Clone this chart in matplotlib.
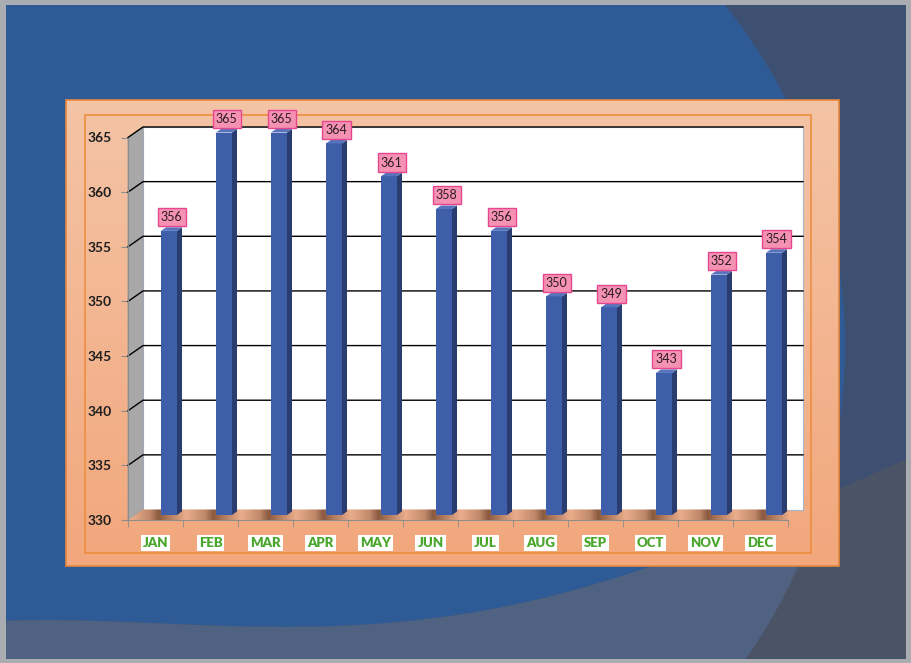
import matplotlib
matplotlib.use('Agg')
import matplotlib.pyplot as plt
import numpy as np
from matplotlib.patches import Rectangle, Polygon, Circle
from matplotlib.colors import LinearSegmentedColormap

# ---- data ----
months = ['JAN', 'FEB', 'MAR', 'APR', 'MAY', 'JUN', 'JUL', 'AUG', 'SEP', 'OCT', 'NOV', 'DEC']
values = [356, 365, 365, 364, 361, 358, 356, 350, 349, 343, 352, 354]
y_ticks = [330, 335, 340, 345, 350, 355, 360, 365]
y_min, y_max = 330, 365

W, H = 911, 663
fig = plt.figure(figsize=(W / 100, H / 100), dpi=100)
fig.patch.set_facecolor('#A9ADB2')

# ---- slide background (pixel coordinates) ----
bg = fig.add_axes([0, 0, 1, 1])
bg.axis('off')
slide = Rectangle((6, 5), 900, 654, facecolor='#3D5071', edgecolor='none', zorder=0)
bg.add_patch(slide)
circA = Circle((301.6, 345.6), 543.4, facecolor='#2E5A95', edgecolor='none', zorder=1)
bg.add_patch(circA)
circA.set_clip_path(slide)
kx = [6, 120, 250, 350, 446, 536, 630, 740, 840, 906]
ky = [620, 624, 626, 623, 616, 602, 575, 530, 488, 460]
xs = np.linspace(6, 906, 400)
coef = np.polyfit(kx, ky, 4)
ys = np.polyval(coef, xs)
pts = np.column_stack([np.r_[xs, 906, 6], np.r_[ys, 659, 659]])
low1 = Polygon(pts, facecolor='#4B5467', edgecolor='none', zorder=2)
bg.add_patch(low1)
low1.set_clip_path(slide)
low2 = Polygon(pts, facecolor='#506282', edgecolor='none', zorder=3)
bg.add_patch(low2)
low2.set_clip_path(circA)

# chart area with gradient
cmap = LinearSegmentedColormap.from_list('peach', ['#F4C4A6', '#F2A77C'])
grad = np.linspace(0, 1, 256).reshape(-1, 1)
bg.imshow(grad, cmap=cmap, extent=(66, 839, 566, 100), aspect='auto', zorder=4)
bg.add_patch(Rectangle((66, 100), 773, 466, fill=False, edgecolor='#E8873A', lw=1.2, zorder=5))
bg.add_patch(Rectangle((85, 115), 726, 438, fill=False, edgecolor='#EE8E40', lw=1.2, zorder=5))
bg.set_xlim(0, W)
bg.set_ylim(H, 0)

# ---- plot axes (front plane) ----
ax = fig.add_axes([128 / W, (H - 520) / H, 660 / W, 382.5 / H])
ax.patch.set_alpha(0)
n = len(months)
x = np.arange(n)
ax.set_xlim(-0.5, n - 0.5)
ax.set_ylim(y_min, y_max)

px_per_unit = 382.5 / (y_max - y_min)
DX = 15 / 55          # depth offset (category units)
DY = 10.5 / px_per_unit
BX = 13.5 / 55        # bar shift
BY = 5 / px_per_unit
BW = 16 / 55          # bar front width
SDX = 5 / 55          # bar side depth
SDY = 3.5 / px_per_unit

x0, x1 = -0.5, n - 0.5
# back wall
ax.add_patch(Polygon([(x0 + DX, y_min + DY), (x1 + DX, y_min + DY), (x1 + DX, y_max + DY),
                      (x0 + DX, y_max + DY)], closed=True, facecolor='white',
                     edgecolor='#A9B6CF', lw=0.8, clip_on=False, zorder=1))
# side wall
ax.add_patch(Polygon([(x0, y_min), (x0 + DX, y_min + DY), (x0 + DX, y_max + DY), (x0, y_max)],
                     closed=True, facecolor='#A8A8A8', edgecolor='#9A9A9A', lw=0.6,
                     clip_on=False, zorder=2))
# floor with bar shadow shading
floor = Polygon([(x0, y_min), (x1, y_min), (x1 + DX, y_min + DY), (x0 + DX, y_min + DY)],
                closed=True, facecolor='none', edgecolor='none', clip_on=False, zorder=2)
ax.add_patch(floor)
fx = np.linspace(x0, x1 + DX, 1200)
phase = (fx - x0 - 0.55) % 1.0
shade = np.interp(phase, [0, 0.12, 0.5, 0.85, 1.0], [0.0, 0.25, 1.0, 0.55, 0.0])
fcmap = LinearSegmentedColormap.from_list('floor', ['#8A5A40', '#EBAE8C'])
im = ax.imshow(shade.reshape(1, -1), cmap=fcmap, extent=(x0, x1 + DX, y_min, y_min + DY),
               aspect='auto', zorder=2, clip_on=True, vmin=0, vmax=1)
im.set_clip_path(floor)
# gridlines
for t in y_ticks[1:]:
    ax.plot([x0, x0 + DX, x1 + DX], [t, t + DY, t + DY], color='black', lw=1.0,
            clip_on=False, zorder=3)

# bars
vals = np.array(values, dtype=float)
cx = x + BX
ax.bar(cx, vals - y_min, bottom=y_min + BY, width=BW, color='#3F5EAA', edgecolor='none',
       clip_on=False, zorder=6)
for c, v in zip(cx, vals):
    side = [(c + BW / 2, y_min + BY), (c + BW / 2 + SDX, y_min + BY + SDY),
            (c + BW / 2 + SDX, v + BY + SDY), (c + BW / 2, v + BY)]
    ax.add_patch(Polygon(side, closed=True, facecolor='#2A3D70', edgecolor='none',
                         clip_on=False, zorder=5))
    top = [(c - BW / 2, v + BY), (c + BW / 2, v + BY), (c + BW / 2 + SDX, v + BY + SDY),
           (c - BW / 2 + SDX, v + BY + SDY)]
    ax.add_patch(Polygon(top, closed=True, facecolor='#5673BC', edgecolor='none',
                         clip_on=False, zorder=6))
    ax.annotate(f'{int(v)}', xy=(c + SDX / 2, v + BY + SDY), xytext=(0, 3),
                textcoords='offset points', ha='center', va='bottom', fontsize=9,
                family='Lato', color='#2B1B22', zorder=10, annotation_clip=False,
                bbox=dict(boxstyle='square,pad=0.25', fc='#F592B4', ec='#E5468E', lw=1))
ax.set_xlim(-0.5, n - 0.5)
ax.set_ylim(y_min, y_max)

# axes styling
for s in ['top', 'right']:
    ax.spines[s].set_visible(False)
ax.spines['left'].set_color('#8C8C8C')
ax.spines['bottom'].set_color('#8C8C8C')
ax.spines['left'].set_zorder(4)
ax.set_yticks(y_ticks)
ax.set_yticklabels([str(t) for t in y_ticks], fontsize=10, fontweight='bold',
                   family='Lato', color='#1E1E1E')
ax.tick_params(axis='y', length=5, color='#8C8C8C', pad=7)
ax.set_xticks(x)
ax.set_xticklabels(months, fontsize=9.5, fontweight='heavy', family='Lato', color='#4AA62C')
ax.set_xticks(np.arange(n + 1) - 0.5, minor=True)
ax.tick_params(axis='x', which='major', length=0, pad=12)
ax.tick_params(axis='x', which='minor', length=5, color='#8C8C8C')
for lbl in ax.get_xticklabels():
    lbl.set_bbox(dict(fc='white', ec='none', pad=1.5))

fig.savefig('out.png', dpi=100)
